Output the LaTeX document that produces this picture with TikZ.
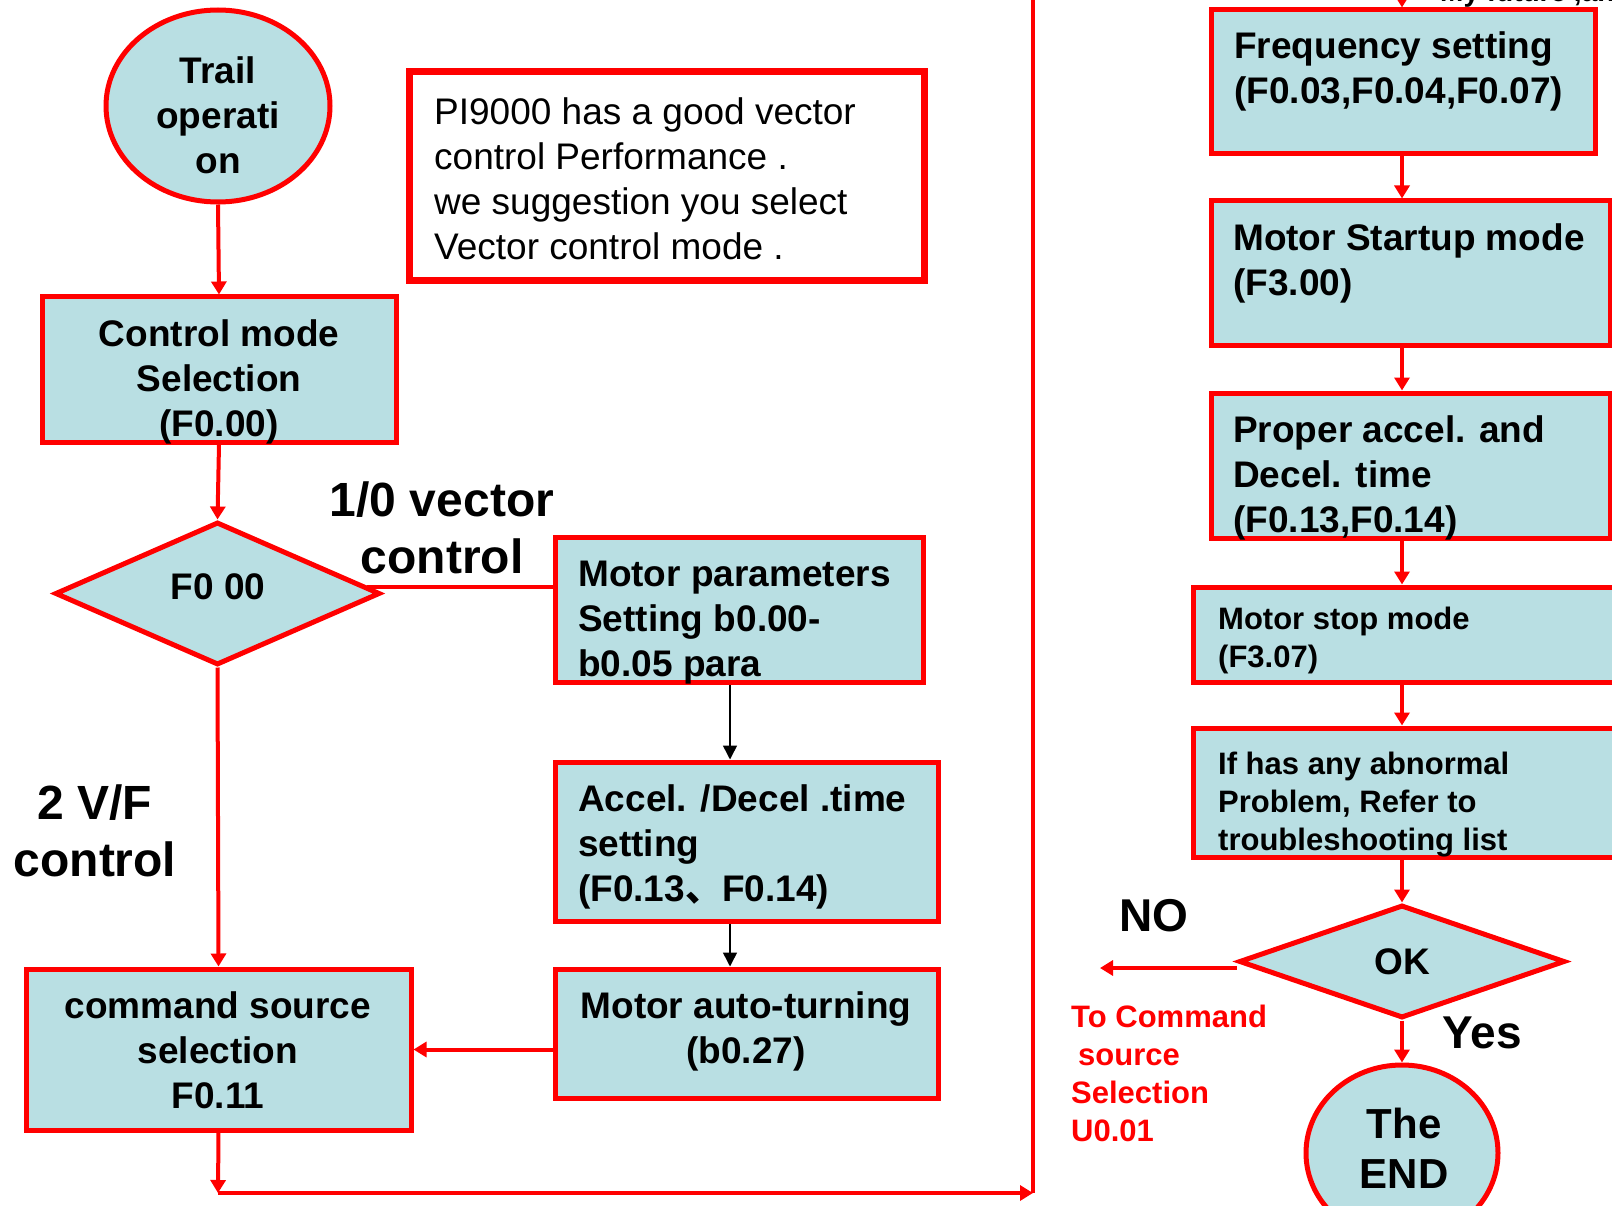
\documentclass[tikz,border=0pt]{standalone}
\usepackage{fontspec}
\setmainfont{Liberation Sans}
\newfontfamily\cjk{Noto Sans CJK SC}
\usetikzlibrary{shapes.geometric,arrows.meta}
\definecolor{boxfill}{RGB}{185,223,227}
\definecolor{fred}{RGB}{255,0,0}
\tikzset{
  box/.style={draw=fred, line width=5pt, fill=boxfill, rectangle, inner sep=0pt},
  oval/.style={draw=fred, line width=5pt, fill=boxfill, ellipse, inner sep=0pt},
  dia/.style={draw=fred, line width=5pt, fill=boxfill, diamond, inner sep=0pt, font=\bfseries\fontsize{37}{45}\selectfont},
  btxt/.style={inner sep=0pt, font=\bfseries\fontsize{37}{45}\selectfont},
  stxt/.style={inner sep=0pt, font=\bfseries\fontsize{31}{38}\selectfont},
  bigtxt/.style={inner sep=0pt, font=\bfseries\fontsize{48}{57}\selectfont, align=center},
  redline/.style={draw=fred, line width=4pt},
  redarrow/.style={redline, -{Triangle[length=13pt,width=15pt]}},
  blackarrow/.style={draw=black, line width=1.5pt, -{Triangle[length=14pt,width=14pt]}},
}
\begin{document}
\begin{tikzpicture}[x=1pt,y=-1pt]
\useasboundingbox (0,0) rectangle (1612,1206);
\fill[white] (0,0) rectangle (1612,1206);
\clip (0,0) rectangle (1612,1206);

% coordinates
\coordinate (bx) at (730,0);
\coordinate (colx) at (1402,0);
\coordinate (c1) at (218,1193);
\coordinate (c2) at (1033,1193);
\coordinate (vtop) at (1033,-20);
\coordinate (ftop) at (1402,-20);
\coordinate (noEnd) at (1100,968);

% left column shapes
\node[oval, minimum width=224pt, minimum height=192pt] (trail) at (218,106) {};
\node[box, minimum width=354pt, minimum height=145pt] (ctl) at (219,369.5) {};
\node[dia, minimum width=325pt, minimum height=143pt] (f0) at (217.5,593.5) {};
\node[box, minimum width=385pt, minimum height=161pt] (cmd) at (218.5,1049.5) {};

\node[rectangle, draw=fred, line width=7pt, fill=white, minimum width=515pt, minimum height=209pt] (pi) at (666.5,176.5) {};
\node[box, minimum width=368pt, minimum height=145pt] (mp) at (739,609.5) {};
\node[box, minimum width=383pt, minimum height=159pt] (acc) at (746.5,841.5) {};
\node[box, minimum width=383pt, minimum height=129pt] (auto) at (746.5,1033.5) {};

% right column shapes
\node[box, minimum width=384pt, minimum height=144pt] (freq) at (1403,82) {};
\node[box, minimum width=399pt, minimum height=145pt] (start) at (1410.5,273.5) {};
\node[box, minimum width=399pt, minimum height=145pt] (prop) at (1410.5,465.5) {};
\node[box, minimum width=421pt, minimum height=95pt] (stop) at (1403.5,634.5) {};
\node[box, minimum width=421pt, minimum height=129pt] (abn) at (1403.5,792.5) {};
\node[dia, minimum width=326pt, minimum height=113pt] (ok) at (1402,961.5) {OK};
\node[oval, minimum width=192pt, minimum height=176pt] (endn) at (1402,1153) {};

% connectors left
\draw[redarrow] (trail.south) -- (ctl.north);
\draw[redarrow] (ctl.south) -- (f0.north);
\draw[redline] ([xshift=-16pt,yshift=7pt]f0.east) -- ([yshift=7pt]f0.east -| mp.west);
\draw[redarrow] (f0.south) -- (cmd.north);
\draw[blackarrow] (mp.south -| bx) -- (acc.north -| bx);
\draw[blackarrow] (acc.south -| bx) -- (auto.north -| bx);
\draw[redarrow] (auto.west |- cmd.east) -- (cmd.east);
\draw[redarrow] (cmd.south) -- (c1);
\draw[redarrow] (c1) -- (c2);
\draw[redline] (c2) -- (vtop);

% connectors right
\draw[redarrow] (ftop) -- (freq.north -| ftop);
\draw[redarrow] (freq.south -| colx) -- (start.north -| colx);
\draw[redarrow] (start.south -| colx) -- (prop.north -| colx);
\draw[redarrow] (prop.south -| colx) -- (stop.north -| colx);
\draw[redarrow] (stop.south -| colx) -- (abn.north -| colx);
\draw[redarrow] (abn.south -| colx) -- (ok.north);
\draw[redarrow] (ok.south) -- (endn.north);
\draw[redarrow] (ok.west |- noEnd) -- (noEnd);

% texts
\node[btxt] (f0T) at (218,587) {F0 00};
\node[btxt, align=center, anchor=north] (trailT) at (218,52) {\strut Trail\\operati\\on};
\node[btxt, align=center, anchor=north] (ctlT) at (219,315) {\strut Control mode\\Selection\\(F0.00)};
\node[inner sep=0pt, font=\fontsize{37}{45}\selectfont, align=left, anchor=north west] (piT) at (434,93)
  {\strut PI9000 has a good vector\\control Performance .\\we suggestion you select\\Vector control mode .};
\node[bigtxt, anchor=north] (vecT) at (442,476) {\strut 1/0 vector\\control};
\node[btxt, align=left, anchor=north west] (mpT) at (578,555) {\strut Motor parameters\\Setting b0.00-\\b0.05 para};
\node[btxt, align=left, anchor=north west] (accT) at (578,780) {\strut Accel. /Decel .time\\setting\\(F0.13{\cjk 、}F0.14)};
\node[bigtxt, anchor=north] (vfT) at (95,779) {\strut 2 V/F\\control};
\node[btxt, align=center, anchor=north] (autoT) at (746,987) {\strut Motor auto-turning\\(b0.27)};
\node[btxt, align=center, anchor=north] (cmdT) at (218,987) {\strut command source\\selection\\F0.11};

\node[inner sep=0pt, font=\bfseries\fontsize{28}{34}\selectfont, anchor=base west] (futT) at (1440,2) {My future ,and};
\node[btxt, align=left, anchor=north west] (freqT) at (1234,27) {\strut Frequency setting\\(F0.03,F0.04,F0.07)};
\node[btxt, align=left, anchor=north west] (startT) at (1233,219) {\strut Motor Startup mode\\(F3.00)};
\node[btxt, align=left, anchor=north west] (propT) at (1233,411) {\strut Proper accel. and\\Decel. time\\(F0.13,F0.14)};
\node[stxt, align=left, anchor=north west] (stopT) at (1218,603) {\strut Motor stop mode\\(F3.07)};
\node[stxt, align=left, anchor=north west] (abnT) at (1218,748) {\strut If has any abnormal\\Problem, Refer to\\troubleshooting list};
\node[inner sep=0pt, font=\bfseries\fontsize{46}{55}\selectfont] (noT) at (1154,916) {NO};
\node[inner sep=0pt, font=\bfseries\fontsize{46}{55}\selectfont] (yesT) at (1482,1033) {Yes};
\node[stxt, text=fred, align=left, anchor=north west] (toT) at (1071,1001) {\strut To Command\\\hspace*{7pt}source\\Selection\\U0.01};
\node[inner sep=0pt, font=\bfseries\fontsize{42}{50}\selectfont, align=center, anchor=north] (endT) at (1404,1103) {\strut The\\END};
\end{tikzpicture}
\end{document}
